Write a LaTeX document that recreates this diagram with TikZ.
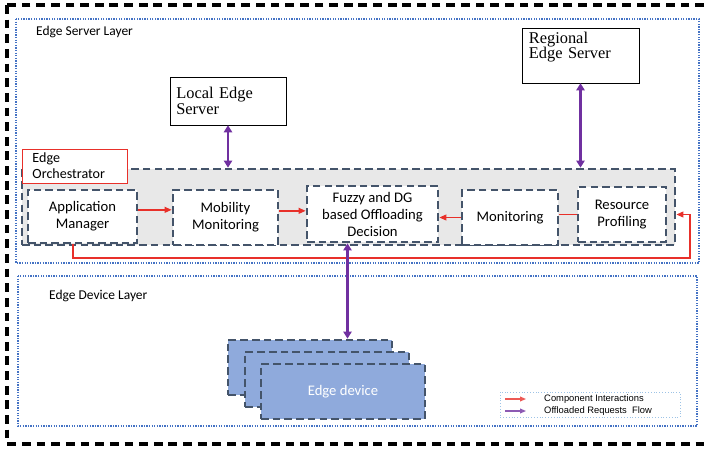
\documentclass[tikz,border=0pt]{standalone}
\usepackage{fontspec}
\setmainfont{Carlito}
\newfontfamily\serverfont{Liberation Serif}
\newfontfamily\legendfont{Liberation Sans}
\usetikzlibrary{arrows.meta,positioning}
\definecolor{slate}{HTML}{44546A}
\definecolor{layerblue}{HTML}{4472C4}
\definecolor{devblue}{HTML}{8FAADC}
\definecolor{flowpurple}{HTML}{7030A0}
\definecolor{linkred}{HTML}{E8302A}
\definecolor{legendblue}{HTML}{9DC3E6}
\begin{document}
\begin{tikzpicture}[x=0.03cm, y=-0.03cm]
		\tikzstyle{layer} =[draw=layerblue, line width=1.4pt, dash pattern=on 1.1pt off 1.1pt];
		\tikzstyle{module} =[draw=slate, line width=2.3pt, dash pattern=on 6.5pt off 3.5pt, fill=white, align=center, font=\fontsize{12.5}{14.5}\selectfont];
		\tikzstyle{server} =[draw, thin, fill=white, align=left, anchor=center, font=\serverfont\fontsize{14}{13}\selectfont];
		\tikzstyle{device} =[module, fill=devblue, minimum width=4.92cm, minimum height=1.65cm];
		\tikzstyle{flow} =[flowpurple, line width=2.2pt, {Triangle[length=6pt,width=7pt]}-{Triangle[length=6pt,width=7pt]}];
		\tikzstyle{link} =[linkred, line width=1.2pt, -{Triangle[length=6pt,width=5pt]}];
		\useasboundingbox (0,0) rectangle (710,448);

		% frames
		\draw[line width=2.6pt, dash pattern=on 7.5pt off 5pt] (7,5) rectangle (722,444);
		\draw[layer] (16,19) rectangle (699,263);
		\draw[layer] (18,276) rectangle (697,426);
		\node[anchor=west, font=\fontsize{11.5}{13}\selectfont] (serverlayer) at (32,32) {Edge Server Layer};
		\node[anchor=west, font=\fontsize{11.5}{13}\selectfont] (devicelayer) at (45,296) {Edge Device Layer};

		% servers
		\node[server, minimum width=3.48cm, minimum height=1.44cm, text width=3.1cm] (local) at (228,101) {Local Edge\\Server};
		\node[server, minimum width=3.51cm, minimum height=1.65cm, text width=3.1cm] (regional) at (580.5,55.5) {Regional\\Edge Server\\[4pt]~};

		% orchestrator
		\node[draw=slate, line width=2.3pt, dash pattern=on 6.5pt off 3.5pt, fill=gray!18, minimum width=19.59cm, minimum height=2.28cm] (orch) at (348.5,207) {};
		\node[draw=linkred, line width=0.8pt, fill=white, align=left, text width=2.55cm, inner xsep=0.3cm, minimum height=1.02cm, font=\fontsize{12}{13.5}\selectfont] (orchlabel) at (75,166) {Edge\\Orchestrator};

		\node[module, minimum width=3.27cm, minimum height=1.59cm] (app) at (82.5,216.5) {Application\\Manager};
		\node[module, minimum width=3.15cm, minimum height=1.65cm] (mobility) at (225.5,217.5) {Mobility\\Monitoring};
		\node[module, minimum width=3.93cm, minimum height=1.68cm] (fuzzy) at (372.5,214) {Fuzzy and DG\\based Offloading\\Decision};
		\node[module, minimum width=2.88cm, minimum height=1.65cm] (monitor) at (510,217.5) {Monitoring};
		\node[module, minimum width=2.64cm, minimum height=1.65cm] (profiling) at (622,214.5) {Resource\\Profiling};

		\draw[link] ([yshift=0.2cm]app.east) -- ([yshift=0.2cm]app.east -| mobility.west);
		\draw[link] ([yshift=0.2cm]mobility.east) -- ([yshift=0.2cm]mobility.east -| fuzzy.west);
		\draw[link] (monitor.west) -- (monitor.west -| fuzzy.east);
		\draw[linkred, line width=1.2pt] (profiling.west) -- (profiling.west -| monitor.east);
		\coordinate (loop) at (690,258);
		\draw[link] ([xshift=-0.28cm]app.south) |- (loop) |- (orch.east |- profiling.east);

		% devices
		\node[device] (dev1) at (310,367.5) {};
		\node[device] (dev2) at (327,379.5) {};
		\node[device, text=white] (dev3) at (343,391.5) {Edge device};

		\draw[flow] (local.south) -- (local.south |- orch.north);
		\draw[flow] (regional.south) -- (regional.south |- orch.north);
		\draw[flow] ([xshift=-0.75cm]fuzzy.south) -- ([xshift=-0.75cm]fuzzy.south |- dev1.north);

		% legend
		\draw[legendblue, thin, dotted] (500,392) rectangle (680,417);
		\coordinate (redfrom) at (505,399);
		\coordinate (redto) at (526,399);
		\coordinate (purplefrom) at (505,411);
		\coordinate (purpleto) at (526,411);
		\draw[linkred!80, line width=1pt, -{Triangle[length=5pt,width=4pt]}] (redfrom) -- (redto);
		\draw[flowpurple!80, line width=1pt, -{Triangle[length=5pt,width=4pt]}] (purplefrom) -- (purpleto);
		\node[anchor=west, inner sep=0pt, font=\legendfont\fontsize{8}{9}\selectfont] (legendlink) at (544,399) {Component Interactions};
		\node[anchor=west, inner sep=0pt, font=\legendfont\fontsize{8}{9}\selectfont] (legendflow) at (544,411) {Offloaded Requests\ \ Flow};
\end{tikzpicture}
\end{document}
